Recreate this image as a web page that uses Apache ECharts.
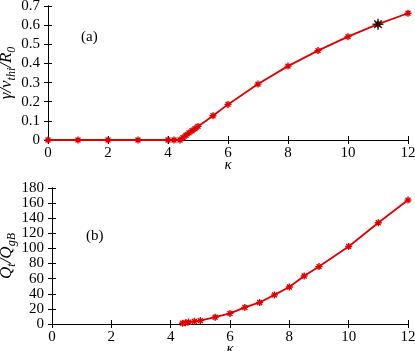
<!DOCTYPE html>
<html>
<head>
<meta charset="utf-8">
<script src="https://cdn.jsdelivr.net/npm/echarts@6/dist/echarts.min.js"></script>
<style>
	html, body { margin: 0; padding: 0; background: #fff; }
	#chart { width: 415px; height: 351px; }
</style>
</head>
<body>
<div id="chart"></div>
<script>
// (a) 增长率
const kappaA = [0, 1, 2, 3, 4, 4.2, 4.4, 4.5, 4.6, 4.7, 4.8, 4.9, 5, 5.5, 6, 7, 8, 9, 10, 11, 12];
const gammaA = [0, 0, 0, 0, 0, 0, 0, 0.012, 0.025, 0.037, 0.048, 0.059, 0.071, 0.127, 0.186, 0.292, 0.386, 0.467, 0.54, 0.605, 0.662];
// 黑色星号
const starPoint = [11, 0.605];
// (b) 热通量
const kappaB = [4.4, 4.5, 4.6, 4.8, 5, 5.5, 6, 6.5, 7, 7.5, 8, 8.5, 9, 10, 11, 12];
const fluxB = [1, 1.5, 2.5, 3.5, 4.5, 9, 14, 22, 28.5, 38.5, 49, 63.5, 76, 102.5, 134, 164];

const font = 'Liberation Serif';
const asterisk = 'path://M0,-10L0,10M-10,0L10,0M-7,-7L7,7M-7,7L7,-7';

function toPairs(xs, ys) {
	return xs.map((x, i) => [x, ys[i]]);
}

let chart = echarts.init(document.getElementById('chart'));

// 主轴 + 镜像刻度轴
function xAxes(grid, nameGap) {
	let base = {
		type: 'value', gridIndex: grid, min: 0, max: 12, interval: 2,
		axisLine: { show: true, lineStyle: { color: '#000', width: 1 } },
		axisTick: { show: true, inside: true, length: 4, lineStyle: { color: '#000' } },
		splitLine: { show: false }
	};
	return [
		Object.assign({}, base, {
			position: 'bottom',
			axisLabel: { color: '#000', fontFamily: font, fontSize: 15, margin: 6 },
			name: 'κ', nameLocation: 'middle', nameGap: nameGap, nameMoveOverlap: false,
			nameTextStyle: { color: '#000', fontFamily: font, fontStyle: 'italic', fontSize: 15 }
		}),
		Object.assign({}, base, { position: 'top', axisLabel: { show: false } })
	];
}

function yAxes(grid, max, interval, name, nameGap) {
	let base = {
		type: 'value', gridIndex: grid, min: 0, max: max, interval: interval,
		axisLine: { show: true, lineStyle: { color: '#000', width: 1 } },
		axisTick: { show: true, inside: true, length: 4, lineStyle: { color: '#000' } },
		splitLine: { show: false }
	};
	return [
		Object.assign({}, base, {
			position: 'left',
			axisLabel: { color: '#000', fontFamily: font, fontSize: 15, margin: 8 },
			name: name, nameLocation: 'middle', nameGap: nameGap, nameRotate: 90, nameMoveOverlap: false,
			nameTextStyle: {
				color: '#000', fontFamily: font, fontSize: 17,
				rich: {
					i: { fontFamily: font, fontStyle: 'italic', fontSize: 17 },
					s: { fontFamily: font, fontStyle: 'italic', fontSize: 12, padding: [10, 0, 0, 0] }
				}
			}
		}),
		Object.assign({}, base, { position: 'right', axisLabel: { show: false } })
	];
}

let option = {
	animation: false,
	title: [
		{ text: '(a)', left: 76, top: 25, textStyle: { fontFamily: font, fontSize: 15, fontWeight: 'normal', color: '#000' } },
		{ text: '(b)', left: 81, top: 224, textStyle: { fontFamily: font, fontSize: 15, fontWeight: 'normal', color: '#000' } }
	],
	grid: [
		{ left: 48, right: 7, top: 6, height: 134, outerBoundsMode: 'none', containLabel: false },
		{ left: 52, right: 7, top: 188, height: 136, outerBoundsMode: 'none', containLabel: false }
	],
	xAxis: [].concat(xAxes(0, 18), xAxes(1, 18)),
	yAxis: [].concat(
		yAxes(0, 0.7, 0.1, '{i|γ/v}{s|thi}{i|/R}{s|0}', 30),
		yAxes(1, 180, 20, '{i|Q}{s|t}{i|/Q}{s|gB}', 34)
	),
	series: [
		{
			type: 'line', xAxisIndex: 0, yAxisIndex: 0,
			data: toPairs(kappaA, gammaA),
			symbol: asterisk, symbolSize: 7,
			lineStyle: { color: '#e00000', width: 1.8 },
			itemStyle: { color: '#e00000', borderColor: '#e00000', borderWidth: 1.4 },
			z: 3
		},
		{
			type: 'scatter', xAxisIndex: 0, yAxisIndex: 0,
			data: [starPoint],
			symbol: asterisk, symbolSize: 11,
			itemStyle: { color: '#000', borderColor: '#000', borderWidth: 1.6 },
			z: 4
		},
		{
			type: 'line', xAxisIndex: 2, yAxisIndex: 2,
			data: toPairs(kappaB, fluxB),
			symbol: asterisk, symbolSize: 7,
			lineStyle: { color: '#e00000', width: 1.8 },
			itemStyle: { color: '#e00000', borderColor: '#e00000', borderWidth: 1.4 },
			z: 3
		}
	]
};
chart.setOption(option);
</script>
</body>
</html>
